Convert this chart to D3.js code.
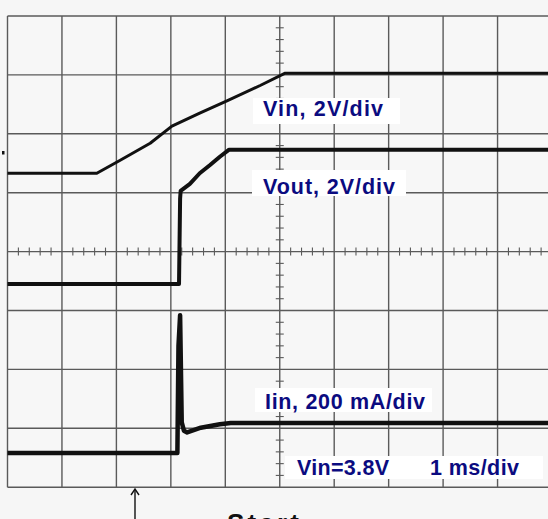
<!DOCTYPE html>
<html>
<head>
<meta charset="utf-8">
<script src="https://cdn.jsdelivr.net/npm/d3@7"></script>
<style>
  html, body { margin: 0; padding: 0; background: #f6f6f6; }
  svg { display: block; }
</style>
</head>
<body>
<svg id="chart" width="548" height="519"></svg>
<script>
// Time axis in ms (1 ms/div), vertical in screen divisions (8 div total)
const xDivs = [-5, -4, -3, -2, -1, 0, 1, 2, 3, 4, 5];
const yDivs = [-4, -3, -2, -1, 0, 1, 2, 3, 4];

// Vin trace (2 V/div)
const vinTime = [-5.0, -3.36, -2.93, -2.38, -1.98, -1.47, -0.97, -0.36, 0.10, 5.0];
const vinDiv  = [1.33, 1.33, 1.55, 1.84, 2.13, 2.35, 2.56, 2.82, 3.03, 3.03];

// Vout trace (2 V/div)
const voutTime = [-5.0, -1.85, -1.83, -1.82, -1.65, -1.47, -1.28, -1.10, -0.93, 5.0];
const voutDiv  = [-0.55, -0.55, 0.90, 1.03, 1.15, 1.33, 1.47, 1.61, 1.73, 1.73];

// Iin trace (200 mA/div)
const iinTime = [-5.0, -1.88, -1.86, -1.83, -1.80, -1.76, -1.70, -1.45, -1.10, -0.90, 5.0];
const iinDiv  = [-3.42, -3.42, -1.60, -1.08, -2.90, -3.04, -3.07, -2.99, -2.93, -2.91, -2.91];

// Texts
const labelTexts = ["Vin, 2V/div", "Vout, 2V/div", "Iin, 200 mA/div", "Vin=3.8V", "1 ms/div"];
const footerText = "Start";

const svg = d3.select("#chart");
const W = 548, H = 519;
const x = d3.scaleLinear().domain([-5, 5]).range([7.5, 552]);
const y = d3.scaleLinear().domain([-4, 4]).range([487.2, 16]);

svg.append("rect").attr("width", W).attr("height", H).attr("fill", "#f6f6f6");
svg.append("rect").attr("x", x(-5)).attr("y", y(4)).attr("width", x(5) - x(-5)).attr("height", y(-4) - y(4)).attr("fill", "#f7f7f7");

// Grid
const grid = svg.append("g").attr("stroke", "#5a5a5a").attr("stroke-width", 1.4);
grid.selectAll("line.v").data(xDivs).join("line")
  .attr("x1", d => x(d)).attr("x2", d => x(d))
  .attr("y1", y(4)).attr("y2", y(-4));
grid.selectAll("line.h").data(yDivs).join("line")
  .attr("x1", x(-5)).attr("x2", W)
  .attr("y1", d => y(d)).attr("y2", d => y(d));

// Center axis minor ticks (5 per division)
const minorX = d3.range(-25, 26).map(i => i / 5).filter(v => Math.abs(v - Math.round(v)) > 1e-6);
const minorY = d3.range(-20, 21).map(i => i / 5).filter(v => Math.abs(v - Math.round(v)) > 1e-6);
const ticks = svg.append("g").attr("stroke", "#5a5a5a").attr("stroke-width", 1.1);
ticks.selectAll("line.mx").data(minorX).join("line")
  .attr("x1", d => x(d)).attr("x2", d => x(d))
  .attr("y1", y(0) - 4).attr("y2", y(0) + 4);
ticks.selectAll("line.my").data(minorY).join("line")
  .attr("x1", x(0) - 4).attr("x2", x(0) + 4)
  .attr("y1", d => y(d)).attr("y2", d => y(d));

// Traces
const line = d3.line().x(d => x(d[0])).y(d => y(d[1]));
function trace(times, vals, w) {
  svg.append("path")
    .datum(d3.zip(times, vals))
    .attr("d", line)
    .attr("fill", "none")
    .attr("stroke", "#111")
    .attr("stroke-width", w)
    .attr("stroke-linejoin", "round");
}
trace(vinTime, vinDiv, 3);
trace(voutTime, voutDiv, 4);
trace(iinTime, iinDiv, 4.5);

// Label layout (pixels): box [x0, y0, x1, y1], text x, baseline, length
const layout = [
  {box: [253, 98, 400, 124], tx: 263, ty: 115.7, len: 120},
  {box: [252, 170, 406, 196], tx: 263, ty: 193.5, len: 132},
  {box: [255, 388, 432, 412], tx: 265, ty: 408.5, len: 160},
  {box: [285, 456, 543, 479], tx: 297, ty: 474.7, len: 92},
  {box: null, tx: 430, ty: 474.7, len: 89}
];
const lg = svg.append("g");
layout.forEach(l => {
  if (l.box) {
    lg.append("rect")
      .attr("x", l.box[0]).attr("y", l.box[1])
      .attr("width", l.box[2] - l.box[0]).attr("height", l.box[3] - l.box[1])
      .attr("fill", "#ffffff");
  }
});
layout.forEach((l, i) => {
  lg.append("text")
    .attr("x", l.tx).attr("y", l.ty)
    .attr("font-family", "'Liberation Sans', Arial, sans-serif")
    .attr("font-weight", "bold")
    .attr("font-size", 21.5)
    .attr("fill", "#0b0b80")
    .attr("textLength", l.len)
    .attr("lengthAdjust", "spacing")
    .text(labelTexts[i]);
});

// Small marker on left
svg.append("rect").attr("x", 2).attr("y", 151).attr("width", 2.5).attr("height", 3.5).attr("fill", "#111");

// Trigger arrow
const ax = 135;
svg.append("line").attr("x1", ax).attr("x2", ax).attr("y1", 489).attr("y2", 519)
  .attr("stroke", "#111").attr("stroke-width", 1.4);
svg.append("path").attr("d", `M${ax - 4},${495} L${ax},${489} L${ax + 4},${495}`)
  .attr("fill", "none").attr("stroke", "#111").attr("stroke-width", 1.4);

svg.append("text").attr("x", 227).attr("y", 532)
  .attr("font-family", "'Liberation Sans', Arial, sans-serif")
  .attr("font-weight", "bold").attr("font-size", 26).attr("fill", "#111")
  .attr("textLength", 72).attr("lengthAdjust", "spacing")
  .text(footerText);
</script>
</body>
</html>
